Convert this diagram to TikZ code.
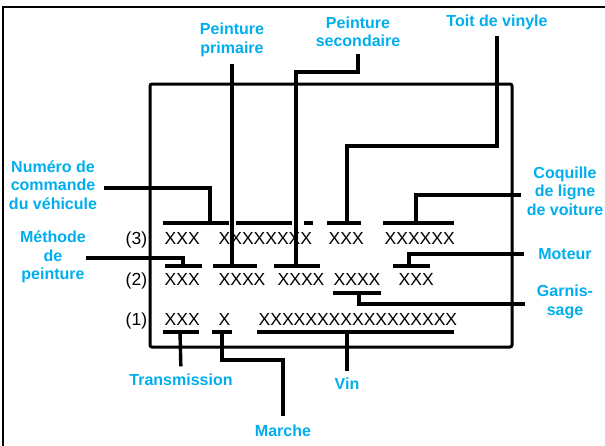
\documentclass[tikz,border=0pt]{standalone}
\usepackage{fontspec}
\setmainfont{Liberation Sans}
\definecolor{labelblue}{RGB}{0,174,239}

\begin{document}
\begin{tikzpicture}[x=1pt,y=-1pt,line width=3.4pt,
                    every node/.style={inner sep=0pt}]
    \tikzset{lbl/.style={text=labelblue,align=center,
               font=\bfseries\fontsize{16}{18.5}\selectfont},
             xx/.style={anchor=base west,font=\fontsize{17.5}{20}\selectfont}}
    \useasboundingbox (0,0) rectangle (605,445);
    \draw[line width=2.6pt] (3,7) rectangle (615,455);
    % plate
    \draw[line width=3pt,rounded corners=2pt]
        (150,84) -- (512,84) -- (512,347) -- (150,347) -- cycle;
    % code rows
    \node[xx] at (124,244) {(3)};
    \node[xx] at (163,244) {XXX};
    \node[xx] at (217,244) {XXXXXXXX};
    \node[xx] at (327,244) {XXX};
    \node[xx] at (383,244) {XXXXXX};
    \node[xx] at (124,285) {(2)};
    \node[xx] at (163,285) {XXX};
    \node[xx] at (217,285) {XXXX};
    \node[xx] at (276,285) {XXXX};
    \node[xx] at (332,285) {XXXX};
    \node[xx] at (397,285) {XXX};
    \node[xx] at (124,325) {(1)};
    \node[xx] at (163,325) {XXX};
    \node[xx] at (217,325) {X};
    \node[xx] at (257,325) {XXXXXXXXXXXXXXXXX};
    % bars
    \draw (163,223) -- (229,223) (236,223) -- (292,223) (304,223) -- (313,223)
          (327,223) -- (361,223) (383,223) -- (454,223)
          (165,266) -- (202,266) (213,266) -- (257,266)
          (274,266) -- (320,266) (393,266) -- (430,266)
          (333,293) -- (381,293)
          (163,332) -- (199,332) (212,332) -- (232,332) (257,332) -- (454,332);
    \coordinate (numA) at (210,223);
    \coordinate (toitA) at (347,223);
    \coordinate (coqA) at (416,223);
    \coordinate (methA) at (183,266);
    \coordinate (primA) at (232,266);
    \coordinate (secA) at (296,266);
    \coordinate (motA) at (409,266);
    \coordinate (garnA) at (359,293);
    \coordinate (transA) at (180,332);
    \coordinate (marA) at (222,332);
    \coordinate (vinA) at (347,332);
    \coordinate (secK) at (296,72);
    \coordinate (toitK) at (347,146);
    \coordinate (marK) at (222,360);
    % labels
    \node[lbl] (prim) at (232,40) {Peinture\\primaire};
    \node[lbl] (sec) at (358,32) {Peinture\\secondaire};
    \node[lbl] (toit) at (497,22) {Toit de vinyle};
    \node[lbl] (num) at (53,185) {Numéro de\\commande\\du véhicule};
    \node[lbl] (meth) at (53,257) {Méthode\\de\\peinture};
    \node[lbl] (coq) at (565,191) {Coquille\\de ligne\\de voiture};
    \node[lbl] (mot) at (565,254) {Moteur};
    \node[lbl] (garn) at (565,302) {Garnis-\\sage};
    \node[lbl] (trans) at (181,380) {Transmission};
    \node[lbl] (vin) at (347,384) {Vin};
    \node[lbl] (mar) at (283,431) {Marche};
    % connectors
    \draw[shorten <=6pt] (prim.south) -- (primA);
    \draw[shorten <=5pt] (sec.south) |- (secK) -- (secA);
    \draw[shorten <=5pt] (toit.south) |- (toitK) -- (toitA);
    \draw[shorten <=5pt] ([yshift=-3pt]num.east) -| (numA);
    \draw ([xshift=-2pt,yshift=-1pt]meth.east) -| (methA);
    \draw[shorten <=4pt] ([yshift=-4pt]coq.west) -| (coqA);
    \draw[shorten <=13pt] (mot.west) -| (motA);
    \draw[shorten <=10pt] ([yshift=-2pt]garn.west) -| (garnA);
    \draw[shorten <=6pt] (trans.north) -- (transA);
    \draw[shorten <=6pt] (vin.north) -- (vinA);
    \draw[shorten <=7pt] (mar.north) |- (marK) -- (marA);
\end{tikzpicture}
\end{document}
